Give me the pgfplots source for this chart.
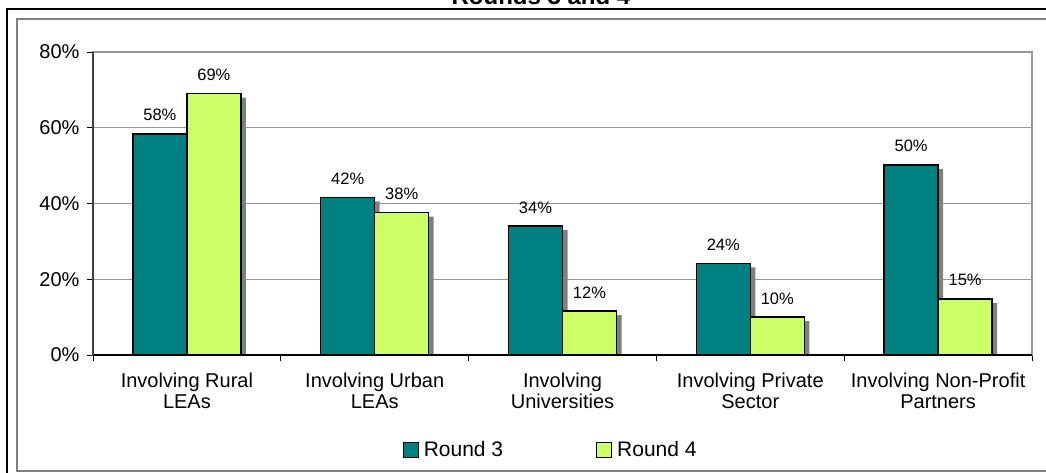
\documentclass[border=0pt]{standalone}
\usepackage{fontspec}
\setmainfont{Liberation Sans}
\usepackage{pgfplots}
\usepackage{pgfplotstable}
\pgfplotsset{compat=1.18}
\definecolor{teal3}{RGB}{0,128,128}
\definecolor{lime4}{RGB}{204,255,102}
\definecolor{shadowgray}{RGB}{128,128,128}
\definecolor{gridgray}{RGB}{150,150,150}
\pgfplotstableread{
x r3 r4
0 58.4 69.0
1 41.6 37.6
2 34.0 11.6
3 24.2 10.0
4 50.2 14.8
}\datatable
\begin{document}
\begin{tikzpicture}
\useasboundingbox (0,0) rectangle (1046bp,473bp);
\clip (0,0) rectangle (1046bp,473bp);
\fill[white] (0,0) rectangle (1046bp,473bp);
\node[anchor=base, font=\bfseries\fontsize{24bp}{28bp}\selectfont] at (541bp,468bp) {Rounds 3 and 4};
\draw[black, line width=2bp] (7bp,-10bp) -- (7bp,464bp) -- (1070bp,464bp);
\draw[shadowgray, line width=2bp] (1070bp,2bp) -- (17bp,2bp) -- (17bp,454bp) -- (1070bp,454bp);
\begin{axis}[
  at={(93bp,118bp)}, anchor=south west,
  scale only axis, width=939bp, height=303bp,
  xmin=-0.5, xmax=4.5, ymin=0, ymax=80,
  clip=false,
  axis line style={gridgray, line width=1.2bp},
  xtick={-0.5,0.5,1.5,2.5,3.5,4.5},
  x tick label as interval=true,
  xticklabels={{Involving Rural\\LEAs}, {Involving Urban\\LEAs}, {Involving\\Universities}, {Involving Private\\Sector}, {Involving Non-Profit\\Partners}},
  xticklabel style={align=center, font=\fontsize{20bp}{21bp}\selectfont, yshift=-8bp},
  ytick={0,20,40,60,80},
  yticklabels={0\%,20\%,40\%,60\%,80\%},
  yticklabel style={font=\fontsize{20bp}{24bp}\selectfont, xshift=-4bp},
  xtick pos=lower, ytick pos=left,
  /pgf/number format/assume math mode=true,
  tick align=outside,
  major tick length=6bp,
  tick style={black, line width=1bp},
  ymajorgrids, grid style={gridgray, line width=1.2bp},
  xmajorgrids=false,
  legend columns=2,
  legend style={at={(0.489,-0.3135)}, anchor=center, draw=none, fill=none,
    font=\fontsize{21bp}{24bp}\selectfont,
    nodes={inner xsep=5bp},
    /tikz/every even column/.append style={column sep=88bp}},
  legend image code/.code={\draw[#1, draw=black, line width=1bp] (0bp,-7.5bp) rectangle (15bp,7.5bp);},
]
% shadows
\addplot[ybar, bar width=54bp, bar shift=-22bp, fill=shadowgray, draw=none, forget plot] table[x=x, y expr=\thisrow{r3}-1.06] {\datatable};
\addplot[ybar, bar width=54bp, bar shift=32bp, fill=shadowgray, draw=none, forget plot] table[x=x, y expr=\thisrow{r4}-1.06] {\datatable};
% bars
\addplot[ybar, bar width=54bp, bar shift=-27bp, fill=teal3, draw=black, line width=1.5bp,
  nodes near coords={\pgfmathprintnumber[fixed,precision=0]{\pgfplotspointmeta}\%},
  nodes near coords style={anchor=base, xshift=-27bp, yshift=13bp, inner sep=0pt, black, font=\fontsize{16.5bp}{18bp}\selectfont}] table[x=x, y=r3] {\datatable};
\addlegendentry{Round 3}
\addplot[ybar, bar width=54bp, bar shift=27bp, fill=lime4, draw=black, line width=1.5bp,
  nodes near coords={\pgfmathprintnumber[fixed,precision=0]{\pgfplotspointmeta}\%},
  nodes near coords style={anchor=base, xshift=27bp, yshift=13bp, inner sep=0pt, black, font=\fontsize{16.5bp}{18bp}\selectfont}] table[x=x, y=r4] {\datatable};
\addlegendentry{Round 4}
\draw[black, line width=1.2bp] (rel axis cs:0,0) -- (rel axis cs:1,0);
\draw[black!75, line width=1.2bp] (rel axis cs:0,0) -- (rel axis cs:0,1);
\end{axis}
\end{tikzpicture}
\end{document}
